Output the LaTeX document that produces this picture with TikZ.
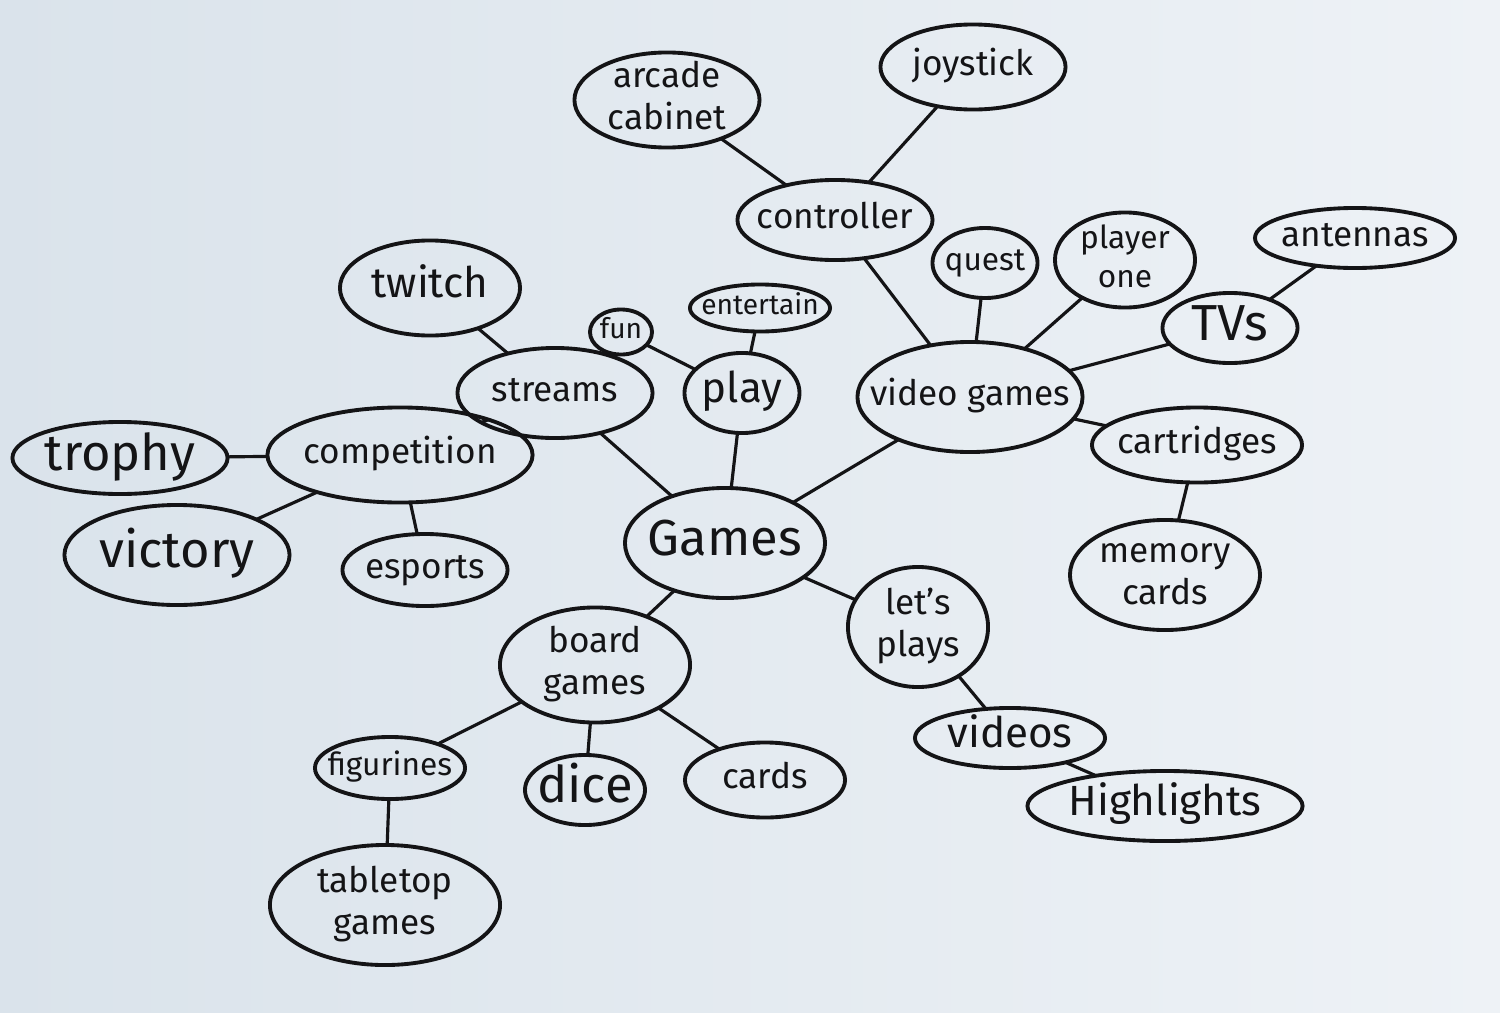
\documentclass[tikz,border=0pt]{standalone}
\usepackage{fontspec}
\setmainfont{Fira Sans}
\usepackage{tikz}
\usetikzlibrary{shapes.geometric, positioning}
\definecolor{paper}{RGB}{218, 227, 235}
\definecolor{paperlight}{RGB}{238, 242, 246}
\definecolor{ink}{RGB}{20, 20, 22}
% texte qui ne change pas la taille de la bulle
\newcommand{\scribble}[1]{\raisebox{0pt}[0.5em][0pt]{\makebox[0pt]{\begin{tabular}{@{}c@{}}#1\end{tabular}}}}
\tikzset{
  bubble/.style={
    ellipse, draw=ink, line width=1.1pt,
    text=ink, font=\normalsize,
    inner sep=0pt, outer sep=0pt
  },
  hub/.style={
    bubble, font=\Large
  },
  link/.style={draw=ink, line width=0.9pt}
}

\begin{document}
\begin{tikzpicture}[x=0.01cm, y=-0.01cm]

  % --- Fond papier ---
  \shade[left color=paper, right color=paperlight] (0,0) rectangle (1500,1012);
  \useasboundingbox (0,0) rectangle (1500,1012);

  % --- Centre ---
  \node[hub, minimum width=2cm, minimum height=1.1cm] (games) at (725,543) {\scribble{Games}};

  % --- Branche play ---
  \node[bubble, minimum width=1.15cm, minimum height=0.8cm, font=\large] (play) at (742,393) {\scribble{play}};
  \node[bubble, minimum width=0.62cm, minimum height=0.45cm, font=\footnotesize] (fun) at (621,332) {\scribble{fun}};
  \node[bubble, minimum width=1.4cm, minimum height=0.47cm, font=\footnotesize] (entertain) at (760,308) {\scribble{entertain}};

  % --- Branche streams ---
  \node[bubble, minimum width=1.95cm, minimum height=0.9cm] (streams) at (555,393) {\scribble{streams}};
  \node[bubble, minimum width=1.8cm, minimum height=0.95cm, font=\large] (twitch) at (430,288) {\scribble{twitch}};
  \node[bubble, minimum width=2.65cm, minimum height=0.95cm] (competition) at (400,455) {\scribble{competition}};
  \node[bubble, minimum width=2.15cm, minimum height=0.72cm, font=\Large] (trophy) at (120,458) {\scribble{trophy}};
  \node[bubble, minimum width=2.25cm, minimum height=1cm, font=\Large] (victory) at (177,555) {\scribble{victory}};
  \node[bubble, minimum width=1.65cm, minimum height=0.72cm] (esports) at (425,570) {\scribble{esports}};

  % --- Branche board games ---
  \node[bubble, minimum width=1.9cm, minimum height=1.15cm] (board) at (595,665) {\scribble{board\\games}};
  \node[bubble, minimum width=1.5cm, minimum height=0.62cm, font=\small] (figurines) at (390,768) {\scribble{figurines}};
  \node[bubble, minimum width=2.3cm, minimum height=1.2cm] (tabletop) at (385,905) {\scribble{tabletop\\games}};
  \node[bubble, minimum width=1.2cm, minimum height=0.7cm, font=\Large] (dice) at (585,790) {\scribble{dice}};
  \node[bubble, minimum width=1.6cm, minimum height=0.75cm] (cards) at (765,780) {\scribble{cards}};

  % --- Branche let's plays ---
  \node[bubble, minimum width=1.4cm, minimum height=1.2cm] (letsplays) at (918,627) {\scribble{let's\\plays}};
  \node[bubble, minimum width=1.9cm, minimum height=0.6cm, font=\large] (videos) at (1010,738) {\scribble{videos}};
  \node[bubble, minimum width=2.75cm, minimum height=0.7cm, font=\large] (highlights) at (1165,806) {\scribble{Highlights}};

  % --- Branche video games ---
  \node[bubble, minimum width=2.25cm, minimum height=1.1cm] (videogames) at (970,397) {\scribble{video games}};
  \node[bubble, minimum width=1.95cm, minimum height=0.8cm] (controller) at (835,220) {\scribble{controller}};
  \node[bubble, minimum width=1.85cm, minimum height=0.95cm] (arcade) at (667,100) {\scribble{arcade\\cabinet}};
  \node[bubble, minimum width=1.85cm, minimum height=0.85cm] (joystick) at (973,67) {\scribble{joystick}};
  \node[bubble, minimum width=1.05cm, minimum height=0.7cm, font=\small] (quest) at (985,263) {\scribble{quest}};
  \node[bubble, minimum width=1.4cm, minimum height=0.95cm, font=\small] (playerone) at (1125,260) {\scribble{player\\one}};
  \node[bubble, minimum width=1.35cm, minimum height=0.7cm, font=\Large] (tvs) at (1230,328) {\scribble{TVs}};
  \node[bubble, minimum width=2cm, minimum height=0.6cm] (antennas) at (1355,238) {\scribble{antennas}};
  \node[bubble, minimum width=2.1cm, minimum height=0.75cm] (cartridges) at (1197,445) {\scribble{cartridges}};
  \node[bubble, minimum width=1.9cm, minimum height=1.1cm] (memory) at (1165,575) {\scribble{memory\\cards}};

  % --- Connexions ---
  \draw[link] (games) -- (play);
  \draw[link] (games) -- (streams);
  \draw[link] (games) -- (videogames);
  \draw[link] (games) -- (board);
  \draw[link] (games) -- (letsplays);

  \draw[link] (play) -- (fun);
  \draw[link] (play) -- (entertain);

  \draw[link] (streams) -- (twitch);
  \draw[link] (streams) -- (competition);
  \draw[link] (competition) -- (trophy);
  \draw[link] (competition) -- (victory);
  \draw[link] (competition) -- (esports);

  \draw[link] (board) -- (figurines);
  \draw[link] (board) -- (dice);
  \draw[link] (board) -- (cards);
  \draw[link] (figurines) -- (tabletop);

  \draw[link] (letsplays) -- (videos);
  \draw[link] (videos) -- (highlights);

  \draw[link] (videogames) -- (controller);
  \draw[link] (videogames) -- (quest);
  \draw[link] (videogames) -- (playerone);
  \draw[link] (videogames) -- (tvs);
  \draw[link] (videogames) -- (cartridges);
  \draw[link] (controller) -- (arcade);
  \draw[link] (controller) -- (joystick);
  \draw[link] (tvs) -- (antennas);
  \draw[link] (cartridges) -- (memory);

\end{tikzpicture}
\end{document}
